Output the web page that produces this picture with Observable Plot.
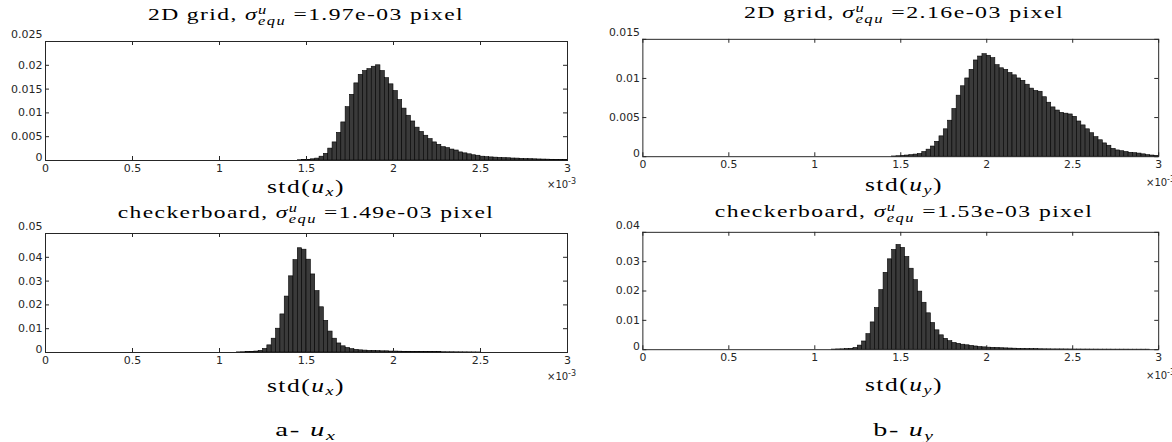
<!DOCTYPE html>
<html><head><meta charset="utf-8">
<script src="https://cdn.jsdelivr.net/npm/d3@7"></script>
<script src="https://cdn.jsdelivr.net/npm/@observablehq/plot@0.6"></script>
<style>
html,body{margin:0;padding:0;background:#fff;}
#root{position:relative;width:1172px;height:442px;overflow:hidden;}
.panel{position:absolute;}
.txt{position:absolute;white-space:nowrap;font-family:"Liberation Serif",serif;color:#000;line-height:1;transform-origin:50% 50%;letter-spacing:0.06em;}
.ss{display:inline-block;vertical-align:-0.42em;font-size:0.7em;line-height:0.95;font-style:italic;text-align:left;}
.ss span{display:block;}
.sub{font-size:0.7em;vertical-align:-0.25em;font-style:italic;}
.expo{position:absolute;white-space:nowrap;font-family:"DejaVu Sans",sans-serif;font-size:10px;color:#262626;}
.expo sup{font-size:8px;vertical-align:4px;}
</style></head><body><div id="root"></div>
<script>
// ---- data (std in units of 1e-3 pixel, normalized frequency) ----
const binWidth = 0.025;
const xTicks = [0, 0.5, 1, 1.5, 2, 2.5, 3];
const xTickLabels = ["0", "0.5", "1", "1.5", "2", "2.5", "3"];

const uxGridStart = 1.45;
const uxGridValues = [0.00005,0.0001,0.00015,0.00025,0.0004,0.0008,0.0014,0.0025,0.0038,0.0058,
  0.0080,0.0112,0.0138,0.0162,0.0180,0.0188,0.0192,0.0197,0.0200,0.0188,
  0.0173,0.0160,0.0146,0.0127,0.0109,0.0094,0.0082,0.0069,0.0060,0.0052,
  0.0045,0.0038,0.0033,0.0028,0.0026,0.0023,0.0021,0.0017,0.0015,0.0013,
  0.0011,0.0010,0.0008,0.0007,0.00065,0.0006,0.00055,0.0005,0.00047,0.00042,
  0.0004,0.00035,0.0003,0.00028,0.00025,0.00022,0.0002,0.00018,0.00015,0.00012,
  0.0001,0.00008];
const uxGridYTicks = [0, 0.005, 0.01, 0.015, 0.02, 0.025];
const uxGridYLabels = ["0", "0.005", "0.01", "0.015", "0.02", "0.025"];

const uyGridStart = 1.45;
const uyGridValues = [0.00003,0.00006,0.0001,0.00015,0.0002,0.00027,0.00035,0.0006,0.0009,0.0013,
  0.0019,0.0026,0.0035,0.0046,0.0061,0.0078,0.0090,0.0100,0.0111,0.0123,
  0.0128,0.0131,0.0129,0.0126,0.0117,0.0113,0.0111,0.0107,0.0104,0.0100,
  0.0097,0.0092,0.0087,0.0084,0.0083,0.0076,0.0069,0.0063,0.0059,0.0056,
  0.0055,0.0054,0.0051,0.0045,0.0040,0.0035,0.0030,0.0025,0.0021,0.0017,
  0.0014,0.0010,0.0008,0.0007,0.0006,0.0005,0.00045,0.0004,0.0003,0.0002,
  0.00015,0.0001];
const uyGridYTicks = [0, 0.005, 0.01, 0.015];
const uyGridYLabels = ["0", "0.005", "0.01", "0.015"];

const uxCheckStart = 1.1;
const uxCheckValues = [0.00005,0.0001,0.00015,0.00025,0.0004,0.0007,0.0015,0.0030,0.0058,0.0100,
  0.0160,0.0235,0.0320,0.0388,0.0438,0.0432,0.0390,0.0328,0.0258,0.0190,
  0.0133,0.0088,0.0058,0.0038,0.0026,0.0019,0.0014,0.0011,0.0009,0.0008,
  0.0007,0.0007,0.0006,0.0005,0.0005,0.0004,0.0004,0.00035,0.0003,0.0003,
  0.00025,0.00025,0.0002,0.0002,0.00018,0.00015,0.00013,0.00012,0.0001,0.0001,
  0.00008,0.00007,0.00006,0.00005,0.00004,0.00003];
const uxCheckYTicks = [0, 0.01, 0.02, 0.03, 0.04, 0.05];
const uxCheckYLabels = ["0", "0.01", "0.02", "0.03", "0.04", "0.05"];

const uyCheckStart = 1.1;
const uyCheckValues = [0.00005,0.0001,0.00013,0.0002,0.0003,0.0006,0.0014,0.0028,0.0053,0.0093,
  0.0142,0.0203,0.0262,0.0308,0.0340,0.0357,0.0347,0.0316,0.0276,0.0237,
  0.0198,0.0160,0.0124,0.0091,0.0066,0.0049,0.0037,0.0029,0.0023,0.0020,
  0.0017,0.0015,0.0013,0.0011,0.0009,0.0008,0.0007,0.00065,0.0006,0.0005,
  0.00045,0.0004,0.00035,0.0003,0.00025,0.0002,0.0002,0.00018,0.00015,0.00013,
  0.00012,0.0001,0.0001,0.0001,0.00009,0.00008,0.00007,0.00007,0.00006,0.00006,
  0.00005,0.00005,0.00004,0.00004,0.00004,0.00003,0.00003,0.00003,0.00003,0.00002,
  0.00002,0.00002,0.00002,0.00002];
const uyCheckYTicks = [0, 0.01, 0.02, 0.03, 0.04];
const uyCheckYLabels = ["0", "0.01", "0.02", "0.03", "0.04"];

const titles = [
  "2D grid, <i>σ</i><span class='ss'><span>u</span><span>equ</span></span> =1.97e-03 pixel",
  "2D grid, <i>σ</i><span class='ss'><span>u</span><span>equ</span></span> =2.16e-03 pixel",
  "checkerboard, <i>σ</i><span class='ss'><span>u</span><span>equ</span></span> =1.49e-03 pixel",
  "checkerboard, <i>σ</i><span class='ss'><span>u</span><span>equ</span></span> =1.53e-03 pixel"
];
const xLabels = ["std(<i>u</i><span class='sub'>x</span>)", "std(<i>u</i><span class='sub'>y</span>)"];
const captions = ["a- <i>u</i><span class='sub'>x</span>", "b- <i>u</i><span class='sub'>y</span>"];

// ---- layout ----
const root = document.getElementById("root");
const mL = 46, mR = 14, mT = 12, mB = 26;
const tick = 4;

function histPanel(start, values, yTicks, yLabels, frame) {
  const data = values.map((v, i) => ({x1: start + i * binWidth, x2: start + (i + 1) * binWidth, y: v}));
  const fw = frame.w, fh = frame.h;
  const yMax = yTicks[yTicks.length - 1];
  const lab = (d) => yLabels[yTicks.indexOf(d)];
  const svg = Plot.plot({
    width: fw + mL + mR, height: fh + mT + mB,
    marginLeft: mL, marginRight: mR, marginTop: mT, marginBottom: mB,
    style: {background: "transparent", fontFamily: "DejaVu Sans, sans-serif", fontSize: "11px", color: "#262626", overflow: "visible"},
    x: {domain: [0, 3], axis: null},
    y: {domain: [0, yMax], axis: null},
    marks: [
      Plot.rectY(data, {x1: "x1", x2: "x2", y: "y", fill: "#3a3a3a", stroke: "#000", strokeWidth: 0.6}),
      Plot.ruleX(xTicks, {x: d => d, insetTop: fh - tick, stroke: "#262626"}),
      Plot.ruleX(xTicks, {x: d => d, insetBottom: fh - tick, stroke: "#262626"}),
      Plot.ruleY(yTicks, {y: d => d, insetRight: fw - tick, stroke: "#262626"}),
      Plot.ruleY(yTicks, {y: d => d, insetLeft: fw - tick, stroke: "#262626"}),
      Plot.frame({stroke: "#262626", strokeWidth: 1}),
      Plot.text(xTicks, {x: d => d, text: d => xTickLabels[xTicks.indexOf(d)], frameAnchor: "bottom", lineAnchor: "top", dy: 4, fill: "#262626", fontSize: 11}),
      Plot.text(yTicks.slice(1, -1), {y: d => d, text: lab, frameAnchor: "left", textAnchor: "end", dx: -3, fill: "#262626", fontSize: 11}),
      Plot.text(yTicks.slice(-1), {y: d => d, text: lab, frameAnchor: "left", textAnchor: "end", dx: -3, dy: -7, fill: "#262626", fontSize: 11}),
      Plot.text(yTicks.slice(0, 1), {y: d => d, text: lab, frameAnchor: "left", textAnchor: "end", dx: -3, dy: -3, fill: "#262626", fontSize: 11})
    ]
  });
  const div = document.createElement("div");
  div.className = "panel";
  div.style.left = (frame.x - mL) + "px";
  div.style.top = (frame.y - mT) + "px";
  div.appendChild(svg);
  root.appendChild(div);
  const ex = document.createElement("div");
  ex.className = "expo";
  ex.innerHTML = "×10<sup>-3</sup>";
  root.appendChild(ex);
  ex.style.left = (frame.x + fw - ex.offsetWidth + 9) + "px";
  ex.style.top = (frame.y + fh + 17) + "px";
}

function addText(html, cx, cy, size, targetW) {
  const el = document.createElement("div");
  el.className = "txt";
  el.style.fontSize = size + "px";
  el.innerHTML = html;
  root.appendChild(el);
  const w = el.offsetWidth;
  const s = targetW ? targetW / w : 1;
  el.style.left = cx + "px";
  el.style.top = cy + "px";
  el.style.transform = `translate(-50%,-50%) scaleX(${s})`;
}

const frames = {
  tl: {x: 45, y: 41, w: 522, h: 119},
  tr: {x: 643, y: 39, w: 523, h: 119},
  bl: {x: 45, y: 233, w: 522, h: 119},
  br: {x: 643, y: 232, w: 523, h: 119}
};

histPanel(uxGridStart, uxGridValues, uxGridYTicks, uxGridYLabels, frames.tl);
histPanel(uyGridStart, uyGridValues, uyGridYTicks, uyGridYLabels, frames.tr);
histPanel(uxCheckStart, uxCheckValues, uxCheckYTicks, uxCheckYLabels, frames.bl);
histPanel(uyCheckStart, uyCheckValues, uyCheckYTicks, uyCheckYLabels, frames.br);

addText(titles[0], 306, 16, 17, 316);
addText(titles[1], 904, 14, 17, 320);
addText(titles[2], 306, 214, 17, 376);
addText(titles[3], 904, 213, 17, 378);
addText(xLabels[0], 306, 188, 18, 78);
addText(xLabels[1], 904, 186, 18, 78);
addText(xLabels[0], 306, 387, 18, 78);
addText(xLabels[1], 904, 386, 18, 78);
addText(captions[0], 306, 431, 19, 62);
addText(captions[1], 904, 431, 19, 62);
</script>
</body></html>
